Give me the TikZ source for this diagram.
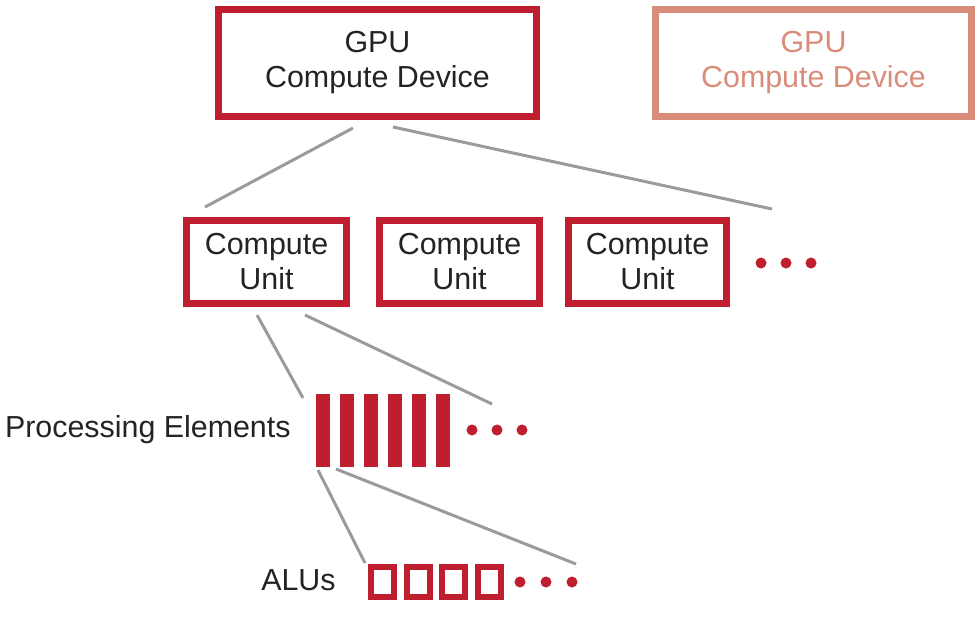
\documentclass[tikz,border=0pt]{standalone}
\usepackage{fontspec}
\setmainfont{Liberation Sans}
\usetikzlibrary{positioning,calc}
\definecolor{gpured}{RGB}{190,30,45}
\definecolor{gpufade}{RGB}{217,140,122}
\definecolor{linkgray}{RGB}{155,155,155}
\definecolor{txt}{RGB}{35,35,35}

\begin{document}
\begin{tikzpicture}[x=0.5pt,y=-0.5pt,
  devbox/.style={draw=gpured,line width=3.5pt,minimum width=159pt,minimum height=53.5pt,inner sep=0pt,align=center,font=\fontsize{15.2}{17.5}\selectfont,text=txt},
  cubox/.style={draw=gpured,line width=3.5pt,minimum width=80pt,minimum height=41.5pt,inner sep=0pt,align=center,font=\fontsize{15.2}{17.5}\selectfont,text=txt},
  pebar/.style={fill=gpured,minimum width=7pt,minimum height=36.5pt,inner sep=0pt},
  alubox/.style={draw=gpured,line width=3pt,minimum width=11.5pt,minimum height=15pt,inner sep=0pt},
  dot/.style={circle,fill=gpured,minimum size=5.5pt,inner sep=0pt},
  link/.style={draw=linkgray,line width=1.5pt},
  lbl/.style={font=\fontsize{15.2}{17.5}\selectfont,text=txt,anchor=east,inner sep=0pt}]

\useasboundingbox (0,0) rectangle (978,622);

\node[devbox] (gpu) at (377.5,63) {GPU\\Compute Device};
\node[devbox,draw=gpufade,text=gpufade,minimum width=158pt] (gpuB) at (813.5,63) {GPU\\Compute Device};

\node[cubox] (cu1) at (266.5,262) {Compute\\Unit};
\node[cubox] (cu2) at (459.5,262) {Compute\\Unit};
\node[cubox,minimum width=79pt] (cu3) at (647.5,262) {Compute\\Unit};
\foreach \i/\x in {1/761,2/786,3/811}
  \node[dot] (cud\i) at (\x,263) {};

\node[lbl] (pelbl) at (291,430) {Processing Elements};
\foreach \i in {1,...,6}
  \node[pebar] (pe\i) at ({323+24*(\i-1)},430.5) {};
\foreach \i/\x in {1/472,2/497,3/522}
  \node[dot] (ped\i) at (\x,430) {};

\node[lbl] (alulbl) at (336,580) {ALUs};
\foreach \i in {1,...,4}
  \node[alubox] (alu\i) at ({382.5+35.5*(\i-1)},582) {};
\foreach \i/\x in {1/520,2/546,3/572}
  \node[dot] (alud\i) at (\x,582) {};

\path
  (353,128) coordinate (g0)
  (205,207) coordinate (g1)
  (393,127) coordinate (g2)
  (772,209) coordinate (g3)
  (257,315) coordinate (c0)
  (303,398) coordinate (c1)
  (305,315) coordinate (c2)
  (492,404) coordinate (c3)
  (318,470) coordinate (p0)
  (365,563) coordinate (p1)
  (336,469) coordinate (p2)
  (576,564) coordinate (p3);

\draw[link] (g0) -- (g1);
\draw[link] (g2) -- (g3);
\draw[link] (c0) -- (c1);
\draw[link] (c2) -- (c3);
\draw[link] (p0) -- (p1);
\draw[link] (p2) -- (p3);

\end{tikzpicture}
\end{document}
